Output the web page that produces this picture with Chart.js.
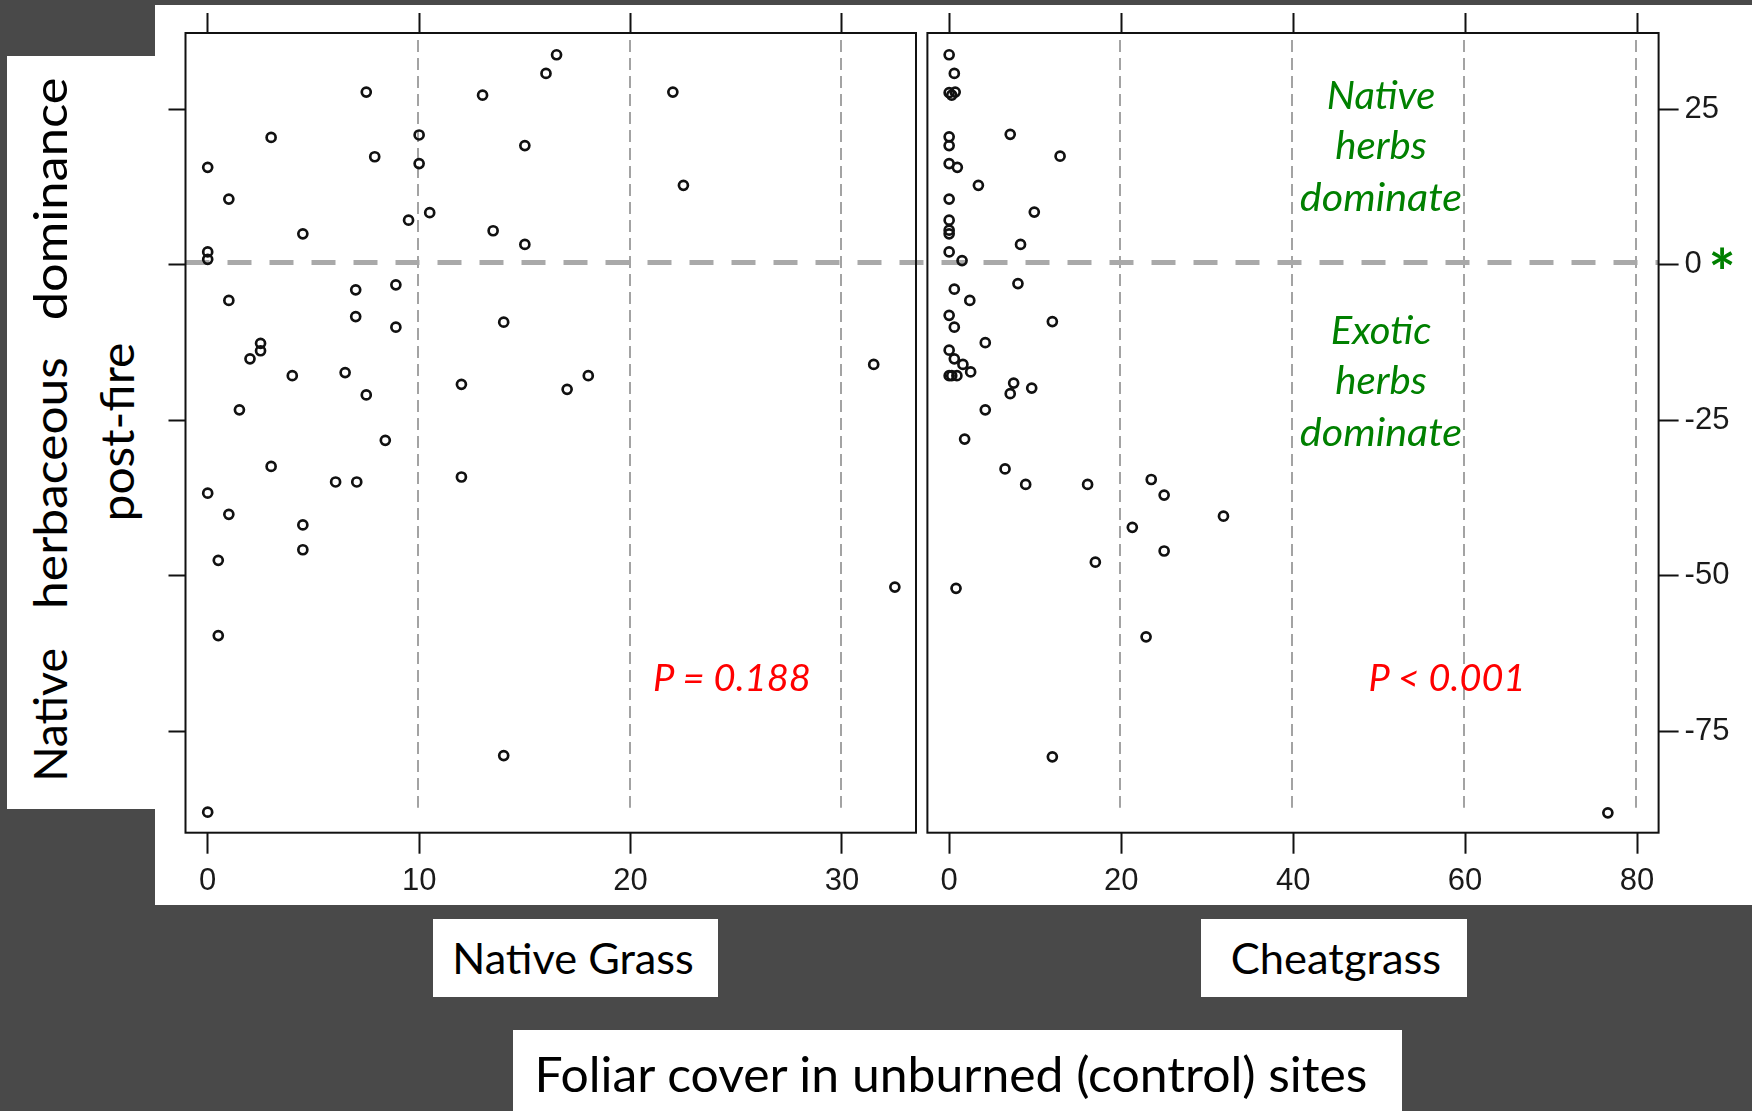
<!DOCTYPE html>
<html>
<head>
<meta charset="utf-8">
<title>Native herbaceous dominance vs foliar cover</title>
<script src="https://cdn.jsdelivr.net/npm/chart.js@4.4.1/dist/chart.umd.min.js"></script>
<style>
  body { margin: 0; background: #494949; }
  #page { position: relative; width: 1752px; height: 1111px; overflow: hidden; background: #494949; }
  .white { position: absolute; background: #fff; }
  canvas { position: absolute; }
  .lbl { position: absolute; white-space: nowrap; line-height: 1; font-family: Lato, "Open Sans", sans-serif; color: #000; }
  .green { color: #008000; font-style: italic; font-size: 38px; }
  .red { color: #ff0000; font-style: italic; font-size: 36px; }
</style>
</head>
<body>
<div id="page">
  <div class="white" style="left:155px;top:5px;width:1597px;height:900px"></div>
  <div class="white" style="left:7px;top:56px;width:148px;height:753px"></div>
  <div class="white" style="left:433px;top:919px;width:285px;height:78px"></div>
  <div class="white" style="left:1201px;top:919px;width:266px;height:78px"></div>
  <div class="white" style="left:513px;top:1030px;width:889px;height:81px"></div>

  <canvas id="leftChart" width="770" height="900" style="left:155px;top:5px"></canvas>
  <canvas id="rightChart" width="827" height="900" style="left:925px;top:5px"></canvas>

  <!-- y axis title -->
  <div class="lbl" style="font-size:46px" data-x="50" data-y="715" data-w="134" data-rot="1">Native</div>
  <div class="lbl" style="font-size:46px" data-x="50" data-y="483" data-w="252" data-rot="1">herbaceous</div>
  <div class="lbl" style="font-size:46px" data-x="50" data-y="199" data-w="243" data-rot="1">dominance</div>
  <div class="lbl" style="font-size:46px" data-x="117" data-y="432" data-w="179" data-rot="1">post-fire</div>

  <!-- panel notes -->
  <div class="lbl green" data-x="1381" data-y="94" data-w="109">Native</div>
  <div class="lbl green" data-x="1381" data-y="144" data-w="92">herbs</div>
  <div class="lbl green" data-x="1381" data-y="196" data-w="162">dominate</div>
  <div class="lbl green" data-x="1381" data-y="329" data-w="101">Exotic</div>
  <div class="lbl green" data-x="1381" data-y="379" data-w="92">herbs</div>
  <div class="lbl green" data-x="1381" data-y="431" data-w="162">dominate</div>
  <div class="lbl red" data-x="732" data-y="677" data-w="158">P = 0.188</div>
  <div class="lbl red" data-x="1447" data-y="677" data-w="157">P &lt; 0.001</div>
  <div class="lbl" style="color:#008000;font-weight:bold;font-size:64px" data-x="1722" data-y="272">*</div>

  <!-- x titles -->
  <div class="lbl" style="font-size:42px" data-x="573" data-y="958" data-w="241">Native Grass</div>
  <div class="lbl" style="font-size:42px" data-x="1336" data-y="958" data-w="210">Cheatgrass</div>
  <div class="lbl" style="font-size:48px" data-x="951" data-y="1074" data-w="833">Foliar cover in unburned (control) sites</div>
</div>

<script>
// native herbaceous dominance post-fire vs native grass cover (left panel)
var nativeGrassX = [16.5, 16.0, 7.5, 13.0, 22.0, 3.0, 10.0, 15.0, 7.9, 10.0, 0, 22.5, 1.0, 10.5, 9.5, 4.5, 13.5, 15.0, 0, 0,
  8.9, 7.0, 1.0, 7.0, 8.9, 14.0, 2.5, 2.5, 2.0, 31.5, 4.0, 6.5, 18.0, 12.0, 17.0, 7.5, 1.5, 8.4, 3.0, 6.05,
  7.05, 12.0, 0, 1.0, 4.5, 4.5, 0.5, 32.5, 0.5, 14.0, 0];
var nativeGrassY = [33.8, 30.8, 27.8, 27.3, 27.8, 20.5, 20.9, 19.2, 17.4, 16.3, 15.7, 12.8, 10.6, 8.4, 7.2, 5.0, 5.5, 3.3, 2.1, 0.9,
  -3.2, -4.0, -5.7, -8.3, -10.0, -9.2, -12.6, -13.8, -15.1, -16.0, -17.8, -17.3, -17.8, -19.2, -20.0, -20.9, -23.3, -28.2, -32.4, -34.9,
  -34.9, -34.1, -36.7, -40.1, -41.8, -45.8, -47.5, -51.8, -59.6, -78.9, -88.0];

// same response vs cheatgrass cover (right panel)
var cheatgrassX = [0, 0.6, 0, 0.3, 0.7, 7.1, 0, 0, 12.9, 0, 0.95, 3.4, 0, 9.9, 0, 0, 0, 8.3, 0, 1.5,
  8.0, 0.6, 2.4, 0, 0.6, 12.0, 4.2, 0, 0.6, 1.6, 2.5, 0, 0.3, 0.9, 7.5, 9.6, 7.1, 4.2, 1.8, 6.5,
  8.9, 16.1, 23.5, 25.0, 31.9, 21.3, 25.0, 17.0, 0.8, 22.9, 12.0, 76.6];
var cheatgrassY = [33.8, 30.8, 27.7, 27.3, 27.8, 21.0, 20.6, 19.2, 17.5, 16.3, 15.7, 12.8, 10.6, 8.5, 7.2, 5.6, 5.0, 3.3, 2.1, 0.7,
  -3.0, -3.9, -5.7, -8.1, -10.0, -9.1, -12.5, -13.7, -15.1, -16.0, -17.2, -17.8, -17.8, -17.8, -19.0, -19.8, -20.7, -23.3, -28.0, -32.8,
  -35.3, -35.3, -34.5, -37.0, -40.4, -42.2, -46.0, -47.8, -52.0, -59.8, -79.1, -88.1];

var yTicks = [25, 0, -25, -50, -75];
var nativeTicks = [0, 10, 20, 30];
var cheatTicks = [0, 20, 40, 60, 80];
var nativeGrid = [10, 20, 30];
var cheatGrid = [20, 40, 60, 80];
var yMin = -91.3, yMax = 37.3;

var tickFont = { family: '"Liberation Sans", Arial, sans-serif', size: 31 };

function toPoints(xs, ys) {
  return xs.map(function (x, i) { return { x: x, y: ys[i] }; });
}

function setTicks(list) {
  return function (scale) {
    scale.ticks = list.map(function (v) { return { value: v }; });
  };
}

// fixed axis size, and no extra room for labels hanging over the ends
function fixSize(prop, size) {
  return function (s) {
    s[prop] = size;
    s.paddingLeft = 0; s.paddingRight = 0;
    s.paddingTop = 0; s.paddingBottom = 0;
  };
}

// dashed guides, zero line and panel box
function panelDecor(gridValues, extendLeft, extendRight, dashOffset) {
  return {
    id: 'panelDecor',
    beforeDatasetsDraw: function (chart) {
      var ctx = chart.ctx, a = chart.chartArea;
      var xs = chart.scales.x, ys = chart.scales.y;
      ctx.save();
      ctx.strokeStyle = '#a3a3a3';
      ctx.lineWidth = 2;
      ctx.setLineDash([12, 6]);
      gridValues.forEach(function (v) {
        var px = Math.round(xs.getPixelForValue(v)) - 1;
        ctx.beginPath();
        ctx.moveTo(px, a.top + 7);
        ctx.lineTo(px, a.bottom - 25);
        ctx.stroke();
      });
      var y0 = ys.getPixelForValue(0) - 2.5;
      ctx.strokeStyle = '#a9a9a9';
      ctx.lineWidth = 5;
      ctx.setLineDash([24, 18]);
      ctx.lineDashOffset = dashOffset;
      ctx.beginPath();
      ctx.moveTo(extendLeft ? 0 : a.left, y0);
      ctx.lineTo(extendRight ? chart.width : a.right, y0);
      ctx.stroke();
      ctx.restore();
    },
    afterDatasetsDraw: function (chart) {
      var ctx = chart.ctx, a = chart.chartArea;
      ctx.save();
      ctx.strokeStyle = '#111';
      ctx.lineWidth = 2;
      ctx.strokeRect(a.left, a.top, a.right - a.left, a.bottom - a.top);
      ctx.restore();
    }
  };
}

function xAxes(min, max, ticks) {
  return {
    x: {
      type: 'linear', position: 'bottom', min: min, max: max,
      afterBuildTicks: setTicks(ticks),
      afterFit: fixSize('height', 72.3),
      border: { display: false },
      grid: { drawOnChartArea: false, drawTicks: true, tickLength: 21, tickWidth: 2, tickColor: '#111' },
      ticks: { font: tickFont, color: '#1a1a1a', padding: 9, maxRotation: 0, autoSkip: false }
    },
    xTop: {
      type: 'linear', position: 'top', min: min, max: max,
      afterBuildTicks: setTicks(ticks),
      afterFit: fixSize('height', 28),
      border: { display: false },
      grid: { drawOnChartArea: false, drawTicks: true, tickLength: 20, tickWidth: 2, tickColor: '#111' },
      ticks: { display: false }
    }
  };
}

function dataset(points) {
  return {
    data: points,
    pointStyle: 'circle',
    pointRadius: 4.5,
    pointBorderWidth: 2.7,
    pointBorderColor: '#111',
    pointBackgroundColor: 'rgba(0,0,0,0)',
    showLine: false
  };
}

var baseOpts = {
  responsive: false,
  animation: false,
  devicePixelRatio: 1,
  events: [],
  plugins: { legend: { display: false }, tooltip: { enabled: false } }
};

// left panel: native grass
var leftScales = xAxes(-1.05, 33.5, nativeTicks);
leftScales.y = {
  type: 'linear', position: 'left', min: yMin, max: yMax,
  afterBuildTicks: setTicks(yTicks),
  afterFit: fixSize('width', 30.5),
  border: { display: false },
  grid: { drawOnChartArea: false, drawTicks: true, tickLength: 17, tickWidth: 2, tickColor: '#111' },
  ticks: { display: false }
};
new Chart(document.getElementById('leftChart'), {
  type: 'scatter',
  data: { datasets: [dataset(toPoints(nativeGrassX, nativeGrassY))] },
  options: Object.assign({}, baseOpts, {
    layout: { autoPadding: false, padding: { left: 0, right: 9, top: 0, bottom: 0 } },
    scales: leftScales
  }),
  plugins: [panelDecor(nativeGrid, false, true, 0)]
});

// right panel: cheatgrass
var rightScales = xAxes(-2.53, 82.5, cheatTicks);
rightScales.y = {
  type: 'linear', position: 'right', min: yMin, max: yMax,
  afterBuildTicks: setTicks(yTicks),
  afterFit: fixSize('width', 93.4),
  border: { display: false },
  grid: { drawOnChartArea: false, drawTicks: true, tickLength: 20, tickWidth: 2, tickColor: '#111' },
  ticks: { font: tickFont, color: '#1a1a1a', padding: 6 }
};
new Chart(document.getElementById('rightChart'), {
  type: 'scatter',
  data: { datasets: [dataset(toPoints(cheatgrassX, cheatgrassY))] },
  options: Object.assign({}, baseOpts, {
    layout: { autoPadding: false, padding: { left: 2.4, right: 0, top: 0, bottom: 0 } },
    scales: rightScales
  }),
  plugins: [panelDecor(cheatGrid, true, false, 925 - 185.5)]
});

// place the text labels, squeezing each to the width it has in the slide
document.querySelectorAll('.lbl').forEach(function (el) {
  var t = 'translate(-50%,-50%)';
  if (el.dataset.rot) t += ' rotate(-90deg)';
  if (el.dataset.w) t += ' scaleX(' + (parseFloat(el.dataset.w) / el.offsetWidth).toFixed(4) + ')';
  el.style.left = el.dataset.x + 'px';
  el.style.top = el.dataset.y + 'px';
  el.style.transform = t;
});
</script>
</body>
</html>
